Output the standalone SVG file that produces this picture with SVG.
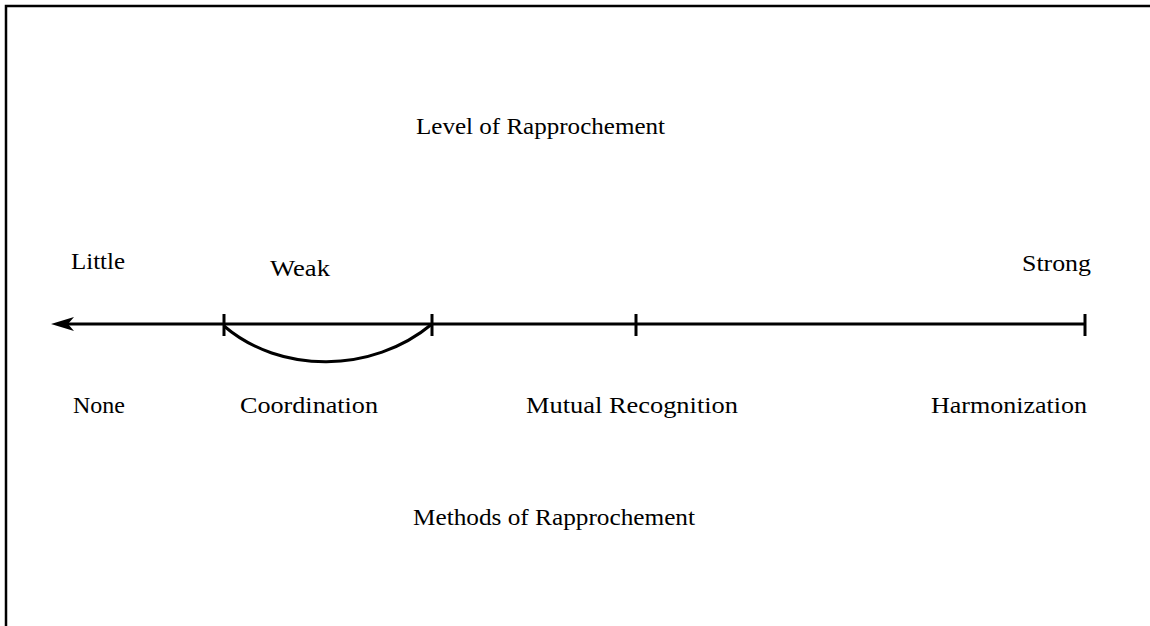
<svg xmlns="http://www.w3.org/2000/svg" width="1150" height="626" viewBox="0 0 1150 626">
<style>
text{font-family:"Liberation Serif","Times New Roman",serif;font-size:24px;fill:#000}
.ln{stroke:#000;stroke-width:3;fill:none}
</style>
<rect width="1150" height="626" fill="#fff"/>
<g id="frame">
<path d="M6,626 V6 H1150" stroke="#000" stroke-width="2.5" fill="none"/>
</g>
<g id="connectors">
<line class="ln" x1="1085" y1="324" x2="60" y2="324"/>
<path d="M51,324 L74,317 L68,324 L74,331 Z" fill="#000"/>
<line class="ln" x1="224" y1="314" x2="224" y2="336"/>
<line class="ln" x1="432" y1="314" x2="432" y2="336"/>
<line class="ln" x1="636" y1="314" x2="636" y2="336"/>
<line class="ln" x1="1085" y1="314" x2="1085" y2="336"/>
<path class="ln" d="M224,326 C280,374 372,374 432,324"/>
</g>
<g id="level"><text x="416" y="134" textLength="249" lengthAdjust="spacingAndGlyphs">Level of Rapprochement</text></g>
<g id="little"><text x="71" y="269" textLength="54" lengthAdjust="spacingAndGlyphs">Little</text></g>
<g id="weak"><text x="270" y="276" textLength="60" lengthAdjust="spacingAndGlyphs">Weak</text></g>
<g id="strong"><text x="1022" y="271" textLength="69" lengthAdjust="spacingAndGlyphs">Strong</text></g>
<g id="none"><text x="73" y="413" textLength="52" lengthAdjust="spacingAndGlyphs">None</text></g>
<g id="coordination"><text x="240" y="413" textLength="138" lengthAdjust="spacingAndGlyphs">Coordination</text></g>
<g id="mutual"><text x="526" y="413" textLength="212" lengthAdjust="spacingAndGlyphs">Mutual Recognition</text></g>
<g id="harmonization"><text x="931" y="413" textLength="156" lengthAdjust="spacingAndGlyphs">Harmonization</text></g>
<g id="methods"><text x="413" y="525" textLength="282" lengthAdjust="spacingAndGlyphs">Methods of Rapprochement</text></g>
</svg>
